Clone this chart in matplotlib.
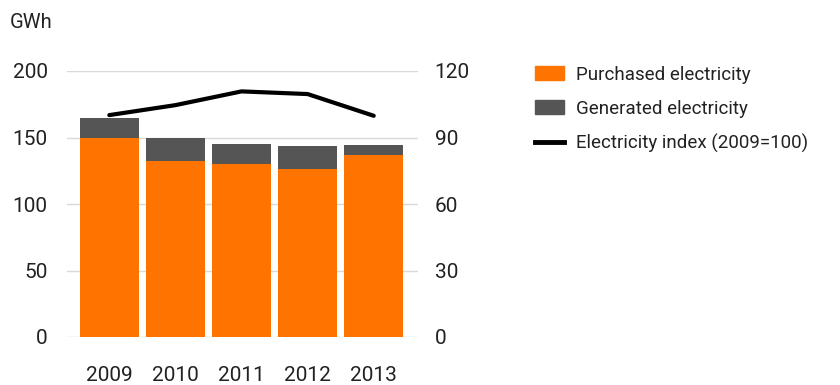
import matplotlib
matplotlib.use("Agg")
from matplotlib import pyplot as plt
from matplotlib.patches import Patch
from matplotlib.lines import Line2D

# data
years = ['2009', '2010', '2011', '2012', '2013']
purchased = [149.6, 132.3, 130.3, 126.0, 136.6]
generated = [15.1, 17.3, 15.0, 17.8, 7.4]
index = [100.1, 104.6, 110.8, 109.6, 99.8]

orange = '#ff7300'
grey = '#555555'
txt = '#222222'

plt.rcParams['font.family'] = ['Roboto', 'DejaVu Sans']

fig = plt.figure(figsize=(8.4, 3.85), dpi=100)
ax = fig.add_axes([67 / 840, 48 / 385, 351 / 840, 266 / 385])
x = list(range(len(years)))

ax.bar(x, purchased, width=0.89, color=orange, zorder=2)
ax.bar(x, generated, width=0.89, bottom=purchased, color=grey, zorder=2)
ax.set_ylim(0, 200)
ax.set_xlim(-0.64, 4.67)
ax.set_yticks([0, 50, 100, 150, 200])
ax.set_xticks(x)
ax.set_xticklabels(years)
ax.grid(axis='y', color='#d9d9d9', linewidth=1, zorder=0)
for s in ax.spines.values():
    s.set_visible(False)
ax.tick_params(axis='both', length=0, labelsize=15, colors=txt, pad=14)
ax.tick_params(axis='x', pad=21)

ax2 = ax.twinx()
ax2.plot(x, index, color='black', linewidth=3, solid_capstyle='round', zorder=3)
ax2.set_ylim(0, 120)
ax2.set_yticks([0, 30, 60, 90, 120])
for s in ax2.spines.values():
    s.set_visible(False)
ax2.tick_params(axis='y', length=0, labelsize=15, colors=txt, pad=12)

fig.text(10 / 840, 1 - 23 / 385, 'GWh', fontsize=14.5, color=txt, va='center')

handles = [Patch(color=orange), Patch(color=grey),
           Line2D([], [], color='black', linewidth=3.5)]
labels = ['Purchased electricity', 'Generated electricity', 'Electricity index (2009=100)']
fig.legend(handles, labels, loc='upper left', bbox_to_anchor=(518 / 840, 1 - 49 / 385),
           frameon=False, fontsize=13.5, handlelength=1.55, handleheight=0.75,
           labelspacing=0.85, handletextpad=0.65, labelcolor=txt)

fig.savefig('out.png', dpi=100)
